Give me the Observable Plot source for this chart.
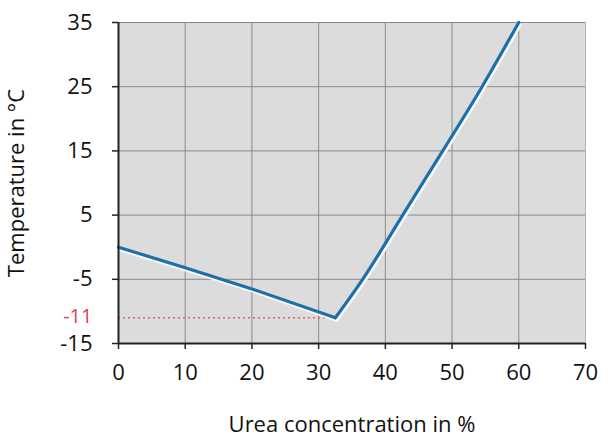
<!DOCTYPE html>
<html><head><meta charset="utf-8">
<script src="https://cdn.jsdelivr.net/npm/d3@7"></script>
<script src="https://cdn.jsdelivr.net/npm/@observablehq/plot@0.6"></script>
<style>body{margin:0;background:#fff}</style>
</head><body><div id="chart"></div>
<script>
// Freezing point of urea solution (two branches meeting at the eutectic point)
const leftConc  = [0, 10, 20, 32.5];
const leftTemp  = [0, -3.2, -6.5, -11];
const rightConc = [32.5, 36.6, 42.6, 48.6, 54.5, 60];
const rightTemp = [-11, -5, 5, 15, 25, 35];
const xTicks = [0, 10, 20, 30, 40, 50, 60, 70];
const yTicks = [35, 25, 15, 5, -5, -15];
const eutecticX = 32.5;
const eutecticT = -11;
const eutecticLabel = ["-11"];

const left = leftConc.map((c, i) => ({c, t: leftTemp[i]}));
const right = rightConc.map((c, i) => ({c, t: rightTemp[i]}));
const font = "'Open Sans', Lato, sans-serif";
const fmt = d => String(d);
const blue = "#1f6ea6", shadow = "#f4fbff";

const chart = Plot.plot({
  width: 608,
  height: 444,
  marginLeft: 118,
  marginRight: 23,
  marginTop: 22,
  marginBottom: 101,
  style: {fontFamily: font, fontSize: "22px", color: "#111", background: "#fff"},
  x: {domain: [0, 70]},
  y: {domain: [-15, 35]},
  marks: [
    Plot.frame({fill: "#dcdcdc", stroke: "#b4b4b4"}),
    Plot.gridX(xTicks.slice(1, -1), {stroke: "#8a8a8a", strokeOpacity: 1}),
    Plot.gridY(yTicks, {stroke: "#8a8a8a", strokeOpacity: 1}),
    Plot.ruleY([eutecticT], {x1: 0, x2: eutecticX, stroke: "#e0606e", strokeWidth: 1.5, strokeDasharray: "2,3"}),
    Plot.line(left, {x: "c", y: "t", stroke: shadow, strokeWidth: 3, dx: 1.5, dy: 2.5}),
    Plot.line(right, {x: "c", y: "t", curve: "monotone-x", stroke: shadow, strokeWidth: 3, dx: 1.5, dy: 2.5}),
    Plot.line(left, {x: "c", y: "t", stroke: blue, strokeWidth: 3.2}),
    Plot.line(right, {x: "c", y: "t", curve: "monotone-x", stroke: blue, strokeWidth: 3.2}),
    Plot.ruleX([0], {stroke: "#222", strokeWidth: 2}),
    Plot.ruleY([-15], {stroke: "#222", strokeWidth: 2}),
    Plot.axisX(xTicks, {tickSize: 6, tickPadding: 15, stroke: "#222", strokeWidth: 1.5, fontSize: 22, tickFormat: fmt,
      label: "Urea concentration in %", labelAnchor: "center", labelOffset: 88, labelArrow: "none"}),
    Plot.axisY(yTicks, {tickSize: 6, tickPadding: 20, stroke: "#222", strokeWidth: 1.5, fontSize: 22, tickFormat: fmt,
      label: "Temperature in °C", labelAnchor: "center", labelOffset: 110, labelArrow: "none"}),
    Plot.text(eutecticLabel, {x: 0, y: eutecticT, text: d => d, textAnchor: "end", dx: -26, dy: -1, fill: "#e0405a", fontSize: 20})
  ]
});
document.getElementById("chart").appendChild(chart);
</script>
</body></html>
